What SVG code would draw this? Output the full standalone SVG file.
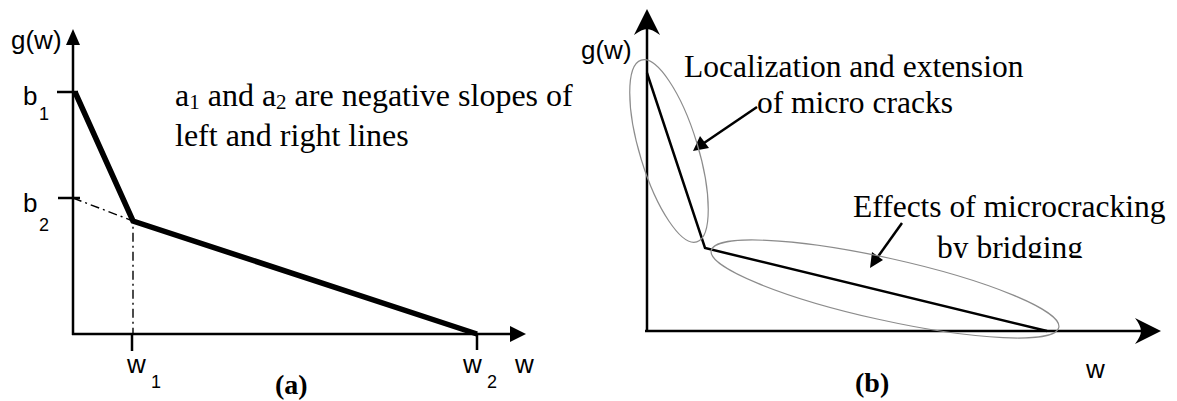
<svg xmlns="http://www.w3.org/2000/svg" width="1177" height="401" viewBox="0 0 1177 401">
<style>
.ax{stroke:#000;stroke-width:2.5;fill:none}
.thick{stroke:#000;stroke-width:5.5;fill:none;stroke-linejoin:miter}
.thin{stroke:#000;stroke-width:2.5;fill:none}
.dd{stroke:#000;stroke-width:1.4;fill:none;stroke-dasharray:9,4,2,4}
.ell{stroke:#8c8c8c;stroke-width:1.2;fill:none}
.sans{font-family:"Liberation Sans","Open Sans",sans-serif;font-size:26px;fill:#000}
.sub{font-size:18px}
.ser{font-family:"Liberation Serif","Times New Roman",serif;font-size:31.5px;fill:#000}
.sera{font-size:32px}
.cap{font-family:"Liberation Serif","Times New Roman",serif;font-size:28px;font-weight:bold;fill:#000}
</style>
<defs>
<clipPath id="clipBy"><rect x="880" y="200" width="300" height="58"/></clipPath>
</defs>
<rect width="1177" height="401" fill="#fff"/>
<g id="panel-a-axes">
<line class="ax" x1="73" y1="335" x2="73" y2="42"/>
<polygon points="73,29 66,45 80,45"/>
<line class="ax" x1="72" y1="334" x2="512" y2="334"/>
<polygon points="526,334 510,326 510,342"/>
<line class="ax" x1="57" y1="92" x2="78" y2="92"/>
<line class="ax" x1="58" y1="198" x2="80" y2="198"/>
<line class="ax" x1="132" y1="334" x2="132" y2="351"/>
<line class="ax" x1="477" y1="334" x2="477" y2="350"/>
</g>
<g id="panel-b-axes">
<line class="ax" x1="647" y1="332" x2="647" y2="28"/>
<path d="M647,9 L660,35 Q652,29 647,29 Q642,29 634,35 Z"/>
<line class="ax" x1="645" y1="331" x2="1142" y2="331"/>
<path d="M1161,331 L1135,318 Q1141,326 1141,331 Q1141,336 1135,344 Z"/>
</g>
<g id="connectors">
<polyline class="thick" points="75,92 133,221 477,334"/>
<polyline class="dd" points="73,198 133,221 133,334"/>
<polyline class="thin" points="647,73 705,248 1047,331"/>
<line x1="757" y1="107" x2="704" y2="143" stroke="#000" stroke-width="2.5"/>
<polygon points="693,151 700,136 709,148"/>
<line x1="902" y1="223" x2="877" y2="258" stroke="#000" stroke-width="2.5"/>
<polygon points="870,268 872,252 883,260"/>
</g>
<g id="ellipse-1"><ellipse class="ell" cx="669" cy="151" rx="95" ry="29" transform="rotate(73 669 151)"/></g>
<g id="ellipse-2"><ellipse class="ell" cx="885" cy="289" rx="178" ry="31" transform="rotate(12.5 885 289)"/></g>
<g id="labels-a">
<text class="sans" x="11" y="49">g(w)</text>
<text class="sans" x="23" y="105">b</text><text class="sans sub" x="39" y="120">1</text>
<text class="sans" x="23" y="212">b</text><text class="sans sub" x="39" y="231">2</text>
<text class="sans" x="127" y="373">w</text><text class="sans sub" x="151" y="388">1</text>
<text class="sans" x="463" y="373">w</text><text class="sans sub" x="487" y="388">2</text>
<text class="sans" x="515" y="373">w</text>
<text class="ser sera" x="175" y="106">a<tspan font-size="21" dy="3">1</tspan><tspan dy="-3"> and a</tspan><tspan font-size="21" dy="3">2</tspan><tspan dy="-3"> are negative slopes of</tspan></text>
<text class="ser sera" x="175" y="146">left and right lines</text>
<text class="cap" x="275" y="394">(a)</text>
</g>
<g id="labels-b">
<text class="sans" x="581" y="59">g(w)</text>
<text class="ser" x="684" y="77">Localization and extension</text>
<text class="ser" x="757" y="113">of micro cracks</text>
<text class="ser" x="853" y="217">Effects of microcracking</text>
<text class="ser" x="937" y="258" clip-path="url(#clipBy)">by bridging</text>
<text class="sans" x="1086" y="378">w</text>
<text class="cap" x="855" y="392">(b)</text>
</g>
</svg>
